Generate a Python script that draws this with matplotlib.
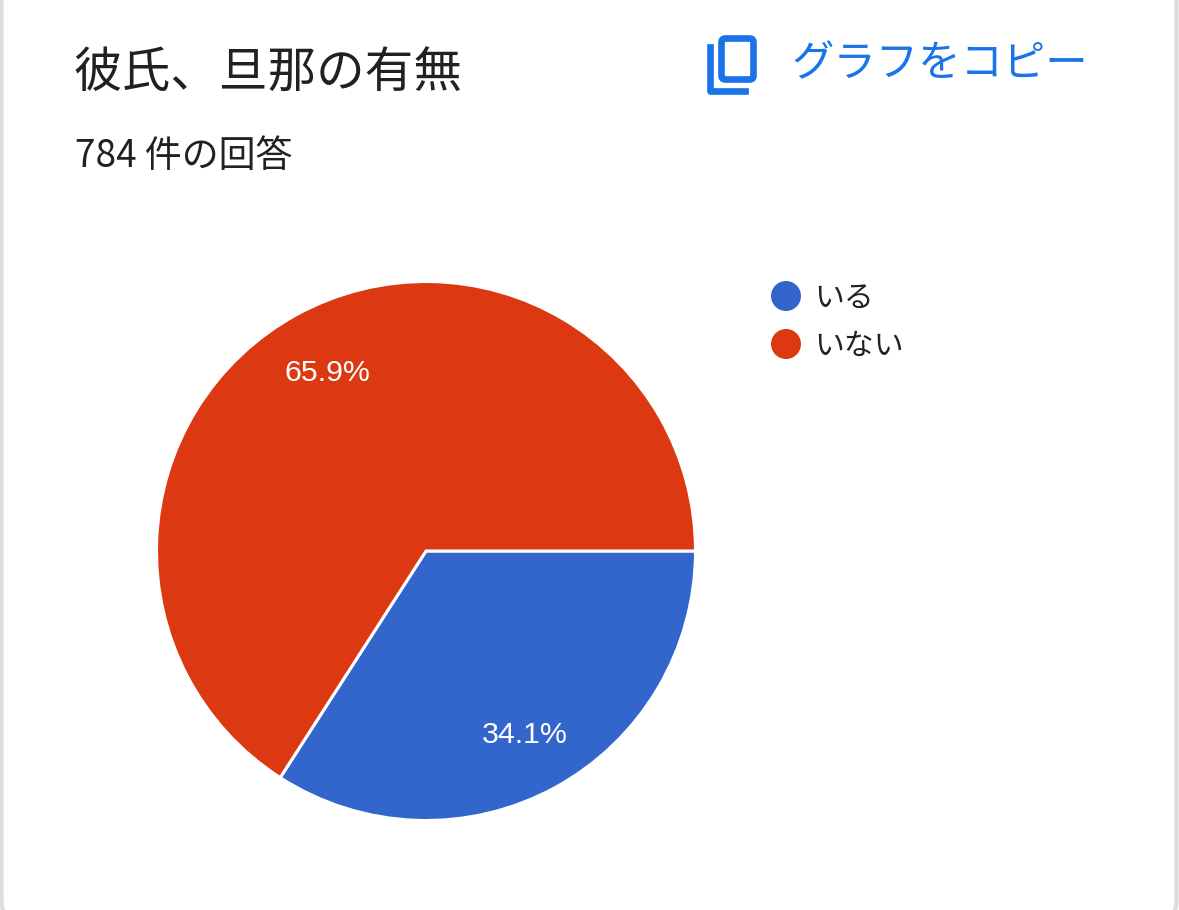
import matplotlib
matplotlib.use("Agg")
import matplotlib.pyplot as plt
from matplotlib.patches import FancyBboxPatch, Circle

plt.rcParams['font.family'] = ['Noto Sans CJK JP', 'DejaVu Sans']

labels = ['いる', 'いない']
values = [34.1, 65.9]
colors = ['#3366cc', '#dc3912']
title = '彼氏、旦那の有無'
subtitle = '784 件の回答'
copy_text = 'グラフをコピー'
W, H = 1179, 910

fig = plt.figure(figsize=(W/100, H/100), dpi=100, facecolor='white')
bg = fig.add_axes([0, 0, 1, 1], zorder=0)
bg.set_xlim(0, W); bg.set_ylim(H, 0); bg.axis('off')
bg.add_patch(FancyBboxPatch((1.5, -40), W-4, H+48, boxstyle='round,pad=0,rounding_size=16',
                            fc='white', ec='#dcdcdc', lw=3))
bg.text(73.5, 73, title, fontsize=35, color='#202124', va='center', ha='left')
bg.text(75, 157, subtitle, fontsize=26.6, color='#202124', va='center', ha='left')
bg.text(792, 64, copy_text, fontsize=30.5, color='#1a73e8', va='center', ha='left')
bg.add_patch(FancyBboxPatch((721.5, 38.5), 32, 41, boxstyle='round,pad=0,rounding_size=4',
                            fc='none', ec='#1a73e8', lw=4.8))
bg.plot([709.5, 709.5, 745], [47, 91, 91], color='#1a73e8', lw=4.8, solid_joinstyle='round')
for name, col, y in zip(labels, colors, [296, 344]):
    bg.add_patch(Circle((786, y), 15, fc=col, ec='none'))
    bg.text(814, y+2, name, fontsize=21.5, color='#222222', va='center', ha='left')

cx, cy, r = 426, 551, 269.5
ax = fig.add_axes([(cx-r)/W, 1-(cy+r)/H, 2*r/W, 2*r/H], zorder=1)
ax.patch.set_alpha(0)
wedges, _, pcts = ax.pie(values, startangle=0, counterclock=False, colors=colors, radius=1,
                         autopct='%.1f%%', pctdistance=0.766,
                         wedgeprops=dict(edgecolor='white', linewidth=2.2),
                         textprops=dict(color='white', fontsize=21.8, family=['Liberation Sans']))
for t in pcts:
    px, py = t.get_position()
    t.set_position((px, py - 3 / r))
ax.set_xlim(-1, 1); ax.set_ylim(-1, 1)
ax.set_aspect('equal')
fig.savefig('out.png', dpi=100)
